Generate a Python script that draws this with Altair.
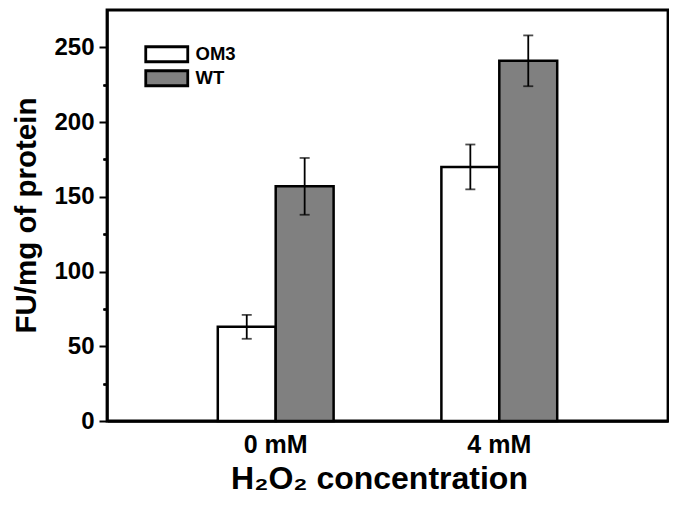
import altair as alt
import pandas as pd

conc = ["0 mM", "0 mM", "4 mM", "4 mM"]
strain = ["OM3", "WT", "OM3", "WT"]
mean = [63, 157, 170, 241]
err = [8, 19, 15, 17]
major_ticks = [0, 50, 100, 150, 200, 250]
minor_ticks = [25, 75, 125, 175, 225]

df = pd.DataFrame({"conc": conc, "strain": strain, "mean": mean, "err": err})
df["lo"] = df["mean"] - df["err"]
df["hi"] = df["mean"] + df["err"]

FONT = "Liberation Sans"

xscale = alt.Scale(paddingInner=0.482, paddingOuter=0.4955)
yscale = alt.Scale(domain=[0, 275], nice=False, zero=True)
xoff = alt.XOffset("strain:N", scale=alt.Scale(paddingInner=0, paddingOuter=0))

xaxis = alt.Axis(
    title="H\u2082O\u2082 concentration", labelAngle=0, ticks=False,
    labelFont=FONT, labelFontSize=25, labelFontWeight="bold", labelColor="black",
    labelPadding=11, domainColor="black", domainWidth=2.5,
    titleFont=FONT, titleFontSize=32, titleFontWeight="bold", titleColor="black",
    titleX=272, titleY=67, titleBaseline="alphabetic", titleAlign="center",
)

yaxis = alt.Axis(
    title="FU/mg of protein", values=major_ticks, grid=False,
    tickSize=8, tickWidth=2, tickColor="black",
    domainColor="black", domainWidth=2.5,
    labelFont=FONT, labelFontSize=24, labelFontWeight="bold", labelColor="black",
    labelPadding=5,
    titleFont=FONT, titleFontSize=29.5, titleFontWeight="bold", titleColor="black",
    titleX=-72, titleY=205, titleAngle=-90, titleBaseline="alphabetic", titleAlign="center",
    orient="left",
)

yaxis_minor = alt.Axis(
    title=None, values=minor_ticks, grid=False, labels=False, domain=False,
    tickSize=4, tickWidth=2, tickColor="black", orient="left",
)

base = alt.Chart(df)

bars = base.mark_bar(stroke="black", strokeWidth=2.5).encode(
    x=alt.X("conc:N", scale=xscale, axis=xaxis),
    xOffset=xoff,
    y=alt.Y("mean:Q", scale=yscale, axis=yaxis),
    fill=alt.Fill(
        "strain:N",
        scale=alt.Scale(domain=["OM3", "WT"], range=["white", "#808080"]),
        legend=alt.Legend(
            title=None, orient="none", legendX=50.5, legendY=35,
            symbolType="M-2.8,-1H2.8V1H-2.8Z", symbolSize=225,
            symbolStrokeColor="black", symbolStrokeWidth=2.8, symbolOpacity=1,
            labelFont=FONT, labelFontSize=18.5, labelFontWeight="bold", labelColor="black",
            labelOffset=19.5, rowPadding=-3,
        ),
    ),
)

whisk = base.mark_rule(color="black", strokeWidth=1.8).encode(
    x=alt.X("conc:N", scale=xscale, axis=xaxis),
    xOffset=xoff,
    y=alt.Y("lo:Q", scale=yscale, axis=yaxis_minor),
    y2="hi:Q",
)

cap_hi = base.mark_tick(color="black", thickness=1.8, size=10).encode(
    x=alt.X("conc:N", scale=xscale, axis=xaxis),
    xOffset=xoff,
    y=alt.Y("hi:Q", scale=yscale, axis=yaxis_minor),
)
cap_lo = base.mark_tick(color="black", thickness=1.8, size=10).encode(
    x=alt.X("conc:N", scale=xscale, axis=xaxis),
    xOffset=xoff,
    y=alt.Y("lo:Q", scale=yscale, axis=yaxis_minor),
)

chart = (
    alt.layer(bars, whisk, cap_hi, cap_lo)
    .resolve_axis(y="independent")
    .properties(
        width=561, height=411,
        autosize=alt.AutoSizeParams(type="none"),
        padding={"left": 99, "top": 2, "right": 1, "bottom": 80},
        background="white",
    )
    .configure_view(stroke="black", strokeWidth=2.8)
)

chart.save("out.html", embed_options={"renderer": "svg", "actions": False})
